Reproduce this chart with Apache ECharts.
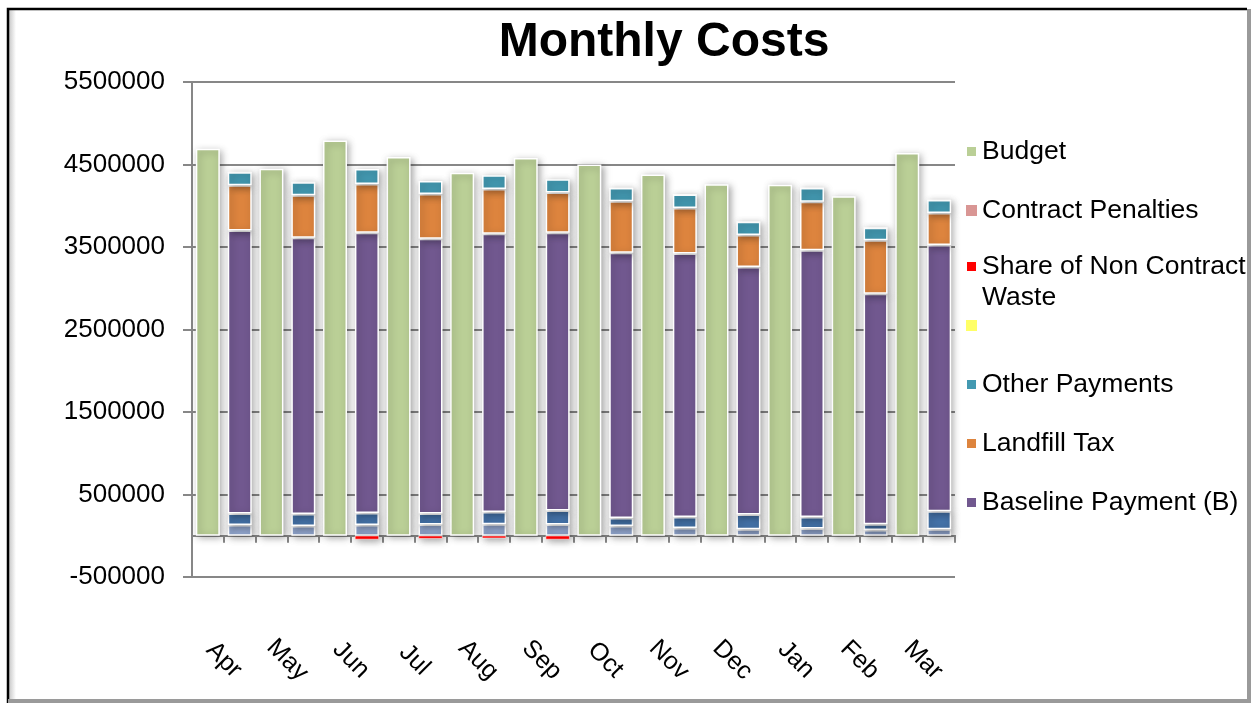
<!DOCTYPE html>
<html><head><meta charset="utf-8">
<script src="https://cdn.jsdelivr.net/npm/echarts@6/dist/echarts.min.js"></script>
<style>html,body{margin:0;padding:0;background:#fff}#c{width:1253px;height:705px}</style>
</head><body><div id="c"></div>
<script>
const months = ['Apr','May','Jun','Jul','Aug','Sep','Oct','Nov','Dec','Jan','Feb','Mar'];
const budget = [4690000, 4450000, 4790000, 4590000, 4400000, 4580000, 4500000, 4380000, 4260000, 4255000, 4115000, 4640000];
const contractPenalties = [0,0,0,0,0,0,0,0,0,0,0,0];
const nonContractWaste = [0,0,-45000,-35000,-30000,-45000,0,0,0,0,0,0];
const blankSeries = [0,0,0,0,0,0,0,0,0,0,0,0];
const otherPayments = [160000, 160000, 181000, 157000, 169000, 160000, 160000, 161000, 160000, 169000, 152000, 157000];
const landfillTax = [546000, 514000, 590000, 542000, 542000, 490000, 623000, 554000, 386000, 586000, 647000, 389000];
const baselinePayment = [3430000, 3349000, 3398000, 3329000, 3373000, 3365000, 3217000, 3193000, 3000000, 3234000, 2795000, 3225000];
const adjustmentA = [141000, 145000, 145000, 136000, 148000, 172000, 96000, 133000, 181000, 140000, 69000, 220000];
const adjustmentB = [130000, 118000, 130000, 135000, 139000, 135000, 118000, 94000, 78000, 87000, 70000, 78000];
const yTickValues = [-500000, 500000, 1500000, 2500000, 3500000, 4500000, 5500000];
const slots = months.flatMap(m => [m + ' Budget', m + ' Actual']);

const FONT = '"Liberation Sans", Arial, sans-serif';
const GREY = '#878787';
function style(color, bw) {
  return {color: color, borderColor: '#fff', borderWidth: bw == null ? 1.5 : bw,
    shadowBlur: 7, shadowColor: 'rgba(0,0,0,0.35)', shadowOffsetX: 2, shadowOffsetY: 2};
}
function bar(name, data, stack, color, bw) {
  return {type: 'bar', name: name, data: data, stack: stack, barWidth: 24, barGap: '33%',
    xAxisIndex: 0, yAxisIndex: 0, itemStyle: style(color, bw)};
}
const legendText = {fontSize: 26.5, color: '#000', fontFamily: FONT, lineHeight: 26};
const chart = echarts.init(document.getElementById('c'));
chart.setOption({
  animation: false,
  backgroundColor: '#fff',
  title: {text: 'Monthly Costs', left: 664, top: 19, textAlign: 'center', padding: 0,
    textStyle: {fontSize: 48, fontWeight: 'bold', fontFamily: FONT, color: '#000'}},
  grid: {left: 192, right: 298, top: 82, bottom: 128, containLabel: false, outerBoundsMode: 'none'},
  legend: [
    {orient: 'vertical', left: 965, top: 138, padding: 0, itemGap: 32, itemWidth: 11, itemHeight: 11,
     icon: 'rect', selectedMode: false, data: ['Budget', 'Contract Penalties'], textStyle: legendText},
    {orient: 'vertical', left: 965, top: 253, padding: 0, itemWidth: 11, itemHeight: 11,
     icon: 'rect', selectedMode: false, data: ['Share of Non Contract Waste'],
     formatter: function () { return '{a|Share of Non Contract}\n{b|Waste}'; },
     textStyle: {fontSize: 26.5, color: '#000', fontFamily: FONT,
       rich: {a: {fontSize: 26.5, fontFamily: FONT, color: '#000', padding: [35, 0, 0, 0]},
              b: {fontSize: 26.5, fontFamily: FONT, color: '#000', lineHeight: 35}}}},
    {orient: 'vertical', left: 965, top: 312, padding: 0, itemGap: 32, itemWidth: 11, itemHeight: 11,
     icon: 'rect', selectedMode: false, data: [' ', 'Other Payments', 'Landfill Tax', 'Baseline Payment (B)'],
     textStyle: legendText}
  ],
  xAxis: [
    {type: 'category', data: months, position: 'bottom',
     axisLine: {show: true, onZero: true, lineStyle: {color: GREY, width: 2}},
     axisTick: {show: false},
     axisLabel: {interval: 0, rotate: -45, align: 'center', verticalAlign: 'middle', margin: 83,
       fontSize: 25, fontFamily: FONT, color: '#000'},
     splitLine: {show: false}},
    {type: 'category', data: slots, position: 'bottom', gridIndex: 0,
     axisLine: {show: true, onZero: true, onZeroAxisIndex: 0, lineStyle: {color: GREY, width: 2}},
     axisTick: {show: true, interval: 0, length: 7, lineStyle: {color: GREY, width: 2}},
     axisLabel: {show: false}, splitLine: {show: false}}
  ],
  yAxis: {type: 'value', min: -500000, max: 5500000,
    axisLine: {show: true, lineStyle: {color: GREY, width: 2}},
    axisTick: {show: true, length: 9, customValues: yTickValues, lineStyle: {color: GREY, width: 2}},
    axisLabel: {customValues: yTickValues, margin: 27, fontSize: 26, fontFamily: FONT, color: '#000',
      formatter: function (v) { return String(v); }},
    splitLine: {show: true, lineStyle: {color: GREY, width: 2}}},
  graphic: [
    {type: 'rect', left: 9, top: 10, shape: {width: 7, height: 690},
     style: {fill: new echarts.graphic.LinearGradient(0, 0, 1, 0, [{offset: 0, color: '#c8c8c8'}, {offset: 1, color: '#ffffff'}])}, silent: true},
    {type: 'polyline', shape: {points: [[8, 703], [8, 9], [1247, 9]]}, style: {stroke: '#000', lineWidth: 2.5, fill: null}, silent: true},
    {type: 'polyline', shape: {points: [[1249, 9], [1249, 701], [8, 701]]}, style: {stroke: '#9a9a9a', lineWidth: 4, fill: null}, silent: true}
  ],
  series: [
    bar('Budget', budget, 'budget', '#BACF96'),
    bar('Series 9', adjustmentB, 'actual', '#95AAD3'),
    bar('Series 8', adjustmentA, 'actual', '#4472A8'),
    bar('Baseline Payment (B)', baselinePayment, 'actual', '#71588F'),
    bar('Landfill Tax', landfillTax, 'actual', '#DD843E'),
    bar('Other Payments', otherPayments, 'actual', '#4399B1'),
    bar('Share of Non Contract Waste', nonContractWaste, 'actual', '#FF0000', 0.5),
    bar('Contract Penalties', contractPenalties, 'actual', '#D99694', 0),
    bar(' ', blankSeries, 'actual', '#FFFF66', 0)
  ]
});
</script></body></html>
